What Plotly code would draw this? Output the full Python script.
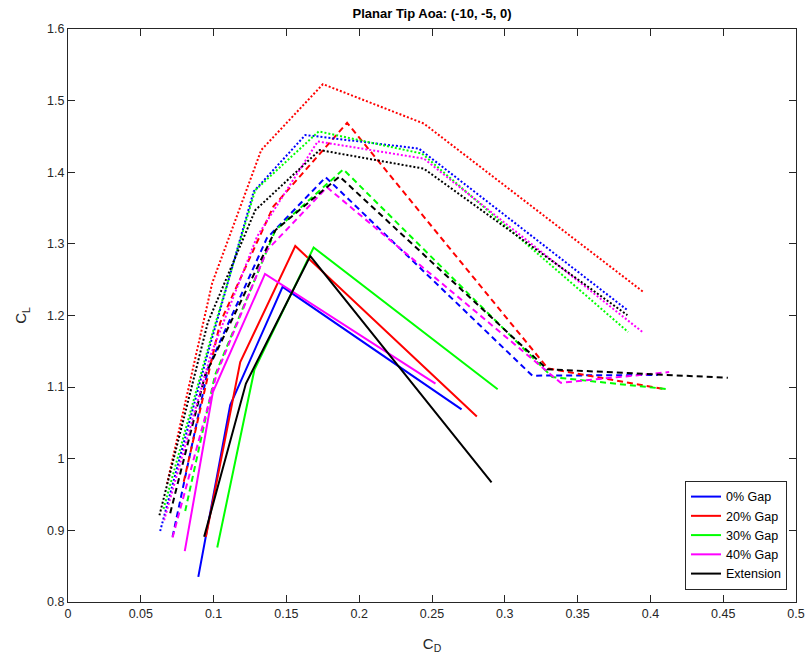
import plotly.graph_objects as go

# ---- data (C_D, C_L) per configuration and tip AoA ----
series_names = ["0% Gap", "20% Gap", "30% Gap", "40% Gap", "Extension"]
series_colors = ["#0000FF", "#FF0000", "#00FF00", "#FF00FF", "#000000"]

# Tip AoA -10 (solid)
cd_0gap_m10 = [0.0895, 0.1114, 0.1474, 0.2703]
cl_0gap_m10 = [0.835, 1.075, 1.240, 1.069]
cd_20gap_m10 = [0.0947, 0.1183, 0.1561, 0.2808]
cl_20gap_m10 = [0.891, 1.135, 1.297, 1.059]
cd_30gap_m10 = [0.1025, 0.1280, 0.1687, 0.2951]
cl_30gap_m10 = [0.876, 1.124, 1.295, 1.097]
cd_40gap_m10 = [0.0802, 0.0995, 0.1353, 0.2524]
cl_40gap_m10 = [0.871, 1.093, 1.258, 1.105]
cd_ext_m10 = [0.0935, 0.1222, 0.1664, 0.2909]
cl_ext_m10 = [0.891, 1.105, 1.283, 0.967]

# Tip AoA -5 (dashed)
cd_0gap_m5 = [0.0718, 0.0965, 0.1366, 0.1770, 0.3189, 0.4050]
cl_0gap_m5 = [0.891, 1.128, 1.308, 1.393, 1.116, 1.117]
cd_20gap_m5 = [0.0795, 0.1045, 0.1410, 0.1917, 0.3296, 0.4100]
cl_20gap_m5 = [0.968, 1.190, 1.352, 1.469, 1.126, 1.097]
cd_30gap_m5 = [0.0805, 0.1010, 0.1424, 0.1891, 0.3326, 0.4129]
cl_30gap_m5 = [0.927, 1.117, 1.319, 1.404, 1.114, 1.097]
cd_40gap_m5 = [0.0718, 0.1022, 0.1366, 0.1779, 0.3384, 0.4129]
cl_40gap_m5 = [0.890, 1.119, 1.291, 1.379, 1.106, 1.121]
cd_ext_m5 = [0.0702, 0.0942, 0.1424, 0.1865, 0.3292, 0.4532]
cl_ext_m5 = [0.924, 1.117, 1.319, 1.394, 1.125, 1.113]

# Tip AoA 0 (dotted)
cd_0gap_0 = [0.0633, 0.0950, 0.1275, 0.1630, 0.2410, 0.3842]
cl_0gap_0 = [0.899, 1.140, 1.373, 1.452, 1.433, 1.2075]
cd_20gap_0 = [0.0680, 0.0990, 0.1327, 0.1751, 0.2444, 0.3957]
cl_20gap_0 = [0.965, 1.245, 1.431, 1.523, 1.468, 1.232]
cd_30gap_0 = [0.0656, 0.0970, 0.1286, 0.1722, 0.2432, 0.3847]
cl_30gap_0 = [0.930, 1.160, 1.375, 1.457, 1.426, 1.177]
cd_40gap_0 = [0.0660, 0.0980, 0.1298, 0.1715, 0.2444, 0.3945]
cl_40gap_0 = [0.914, 1.145, 1.310, 1.443, 1.419, 1.177]
cd_ext_0 = [0.0628, 0.0960, 0.1286, 0.1729, 0.2444, 0.3842]
cl_ext_0 = [0.921, 1.190, 1.347, 1.431, 1.405, 1.2005]

x_ticks = [0, 0.05, 0.1, 0.15, 0.2, 0.25, 0.3, 0.35, 0.4, 0.45, 0.5]
x_ticktext = ["0", "0.05", "0.1", "0.15", "0.2", "0.25", "0.3", "0.35", "0.4", "0.45", "0.5"]
y_ticks = [0.8, 0.9, 1.0, 1.1, 1.2, 1.3, 1.4, 1.5, 1.6]
y_ticktext = ["0.8", "0.9", "1", "1.1", "1.2", "1.3", "1.4", "1.5", "1.6"]

solid = [(cd_0gap_m10, cl_0gap_m10), (cd_20gap_m10, cl_20gap_m10), (cd_30gap_m10, cl_30gap_m10),
         (cd_40gap_m10, cl_40gap_m10), (cd_ext_m10, cl_ext_m10)]
dashed = [(cd_0gap_m5, cl_0gap_m5), (cd_20gap_m5, cl_20gap_m5), (cd_30gap_m5, cl_30gap_m5),
          (cd_40gap_m5, cl_40gap_m5), (cd_ext_m5, cl_ext_m5)]
dotted = [(cd_0gap_0, cl_0gap_0), (cd_20gap_0, cl_20gap_0), (cd_30gap_0, cl_30gap_0),
          (cd_40gap_0, cl_40gap_0), (cd_ext_0, cl_ext_0)]

fig = go.Figure()
for (x, y), name, c in zip(solid, series_names, series_colors):
    fig.add_trace(go.Scatter(x=x, y=y, mode="lines", name=name,
                             line=dict(color=c, width=2), showlegend=True))
for (x, y), name, c in zip(dashed, series_names, series_colors):
    fig.add_trace(go.Scatter(x=x, y=y, mode="lines", name=name,
                             line=dict(color=c, width=2, dash="6px,4px"), showlegend=False))
for (x, y), name, c in zip(dotted, series_names, series_colors):
    fig.add_trace(go.Scatter(x=x, y=y, mode="lines", name=name,
                             line=dict(color=c, width=2, dash="2px,2px"), showlegend=False))

axcol = "#262626"
fig.update_layout(
    width=809, height=660,
    margin=dict(l=68, r=13, t=29, b=58, autoexpand=False),
    paper_bgcolor="white", plot_bgcolor="white",
    font=dict(family="Liberation Sans, Arial, sans-serif", size=12, color=axcol),
    title=dict(text="<b>Planar Tip Aoa: (-10, -5, 0)</b>", x=0.534, xanchor="center",
               y=0.98, yanchor="middle", font=dict(size=13, color="#000000")),
    showlegend=True,
    legend=dict(x=0.9876, xanchor="right", y=0.021, yanchor="bottom",
                bgcolor="white", bordercolor=axcol, borderwidth=1,
                font=dict(size=12.5, color="#000000"), tracegroupgap=0,
                itemwidth=30),
)
fig.update_xaxes(range=[0, 0.5], tickvals=x_ticks, ticktext=x_ticktext, automargin=False,
                 showgrid=False, zeroline=False, showline=True, linecolor=axcol, linewidth=1,
                 mirror="ticks", ticks="inside", ticklen=7, tickcolor=axcol,
                 tickfont=dict(size=12.5),
                 title=dict(text="C<sub>D</sub>", font=dict(size=15, color=axcol), standoff=18))
fig.update_yaxes(range=[0.8, 1.6], tickvals=y_ticks, ticktext=y_ticktext, automargin=False,
                 showgrid=False, zeroline=False, showline=True, linecolor=axcol, linewidth=1,
                 mirror="ticks", ticks="inside", ticklen=7, tickcolor=axcol,
                 tickfont=dict(size=12.5),
                 title=dict(text="C<sub>L</sub>", font=dict(size=15, color=axcol), standoff=16))

fig.write_html("out.html")
